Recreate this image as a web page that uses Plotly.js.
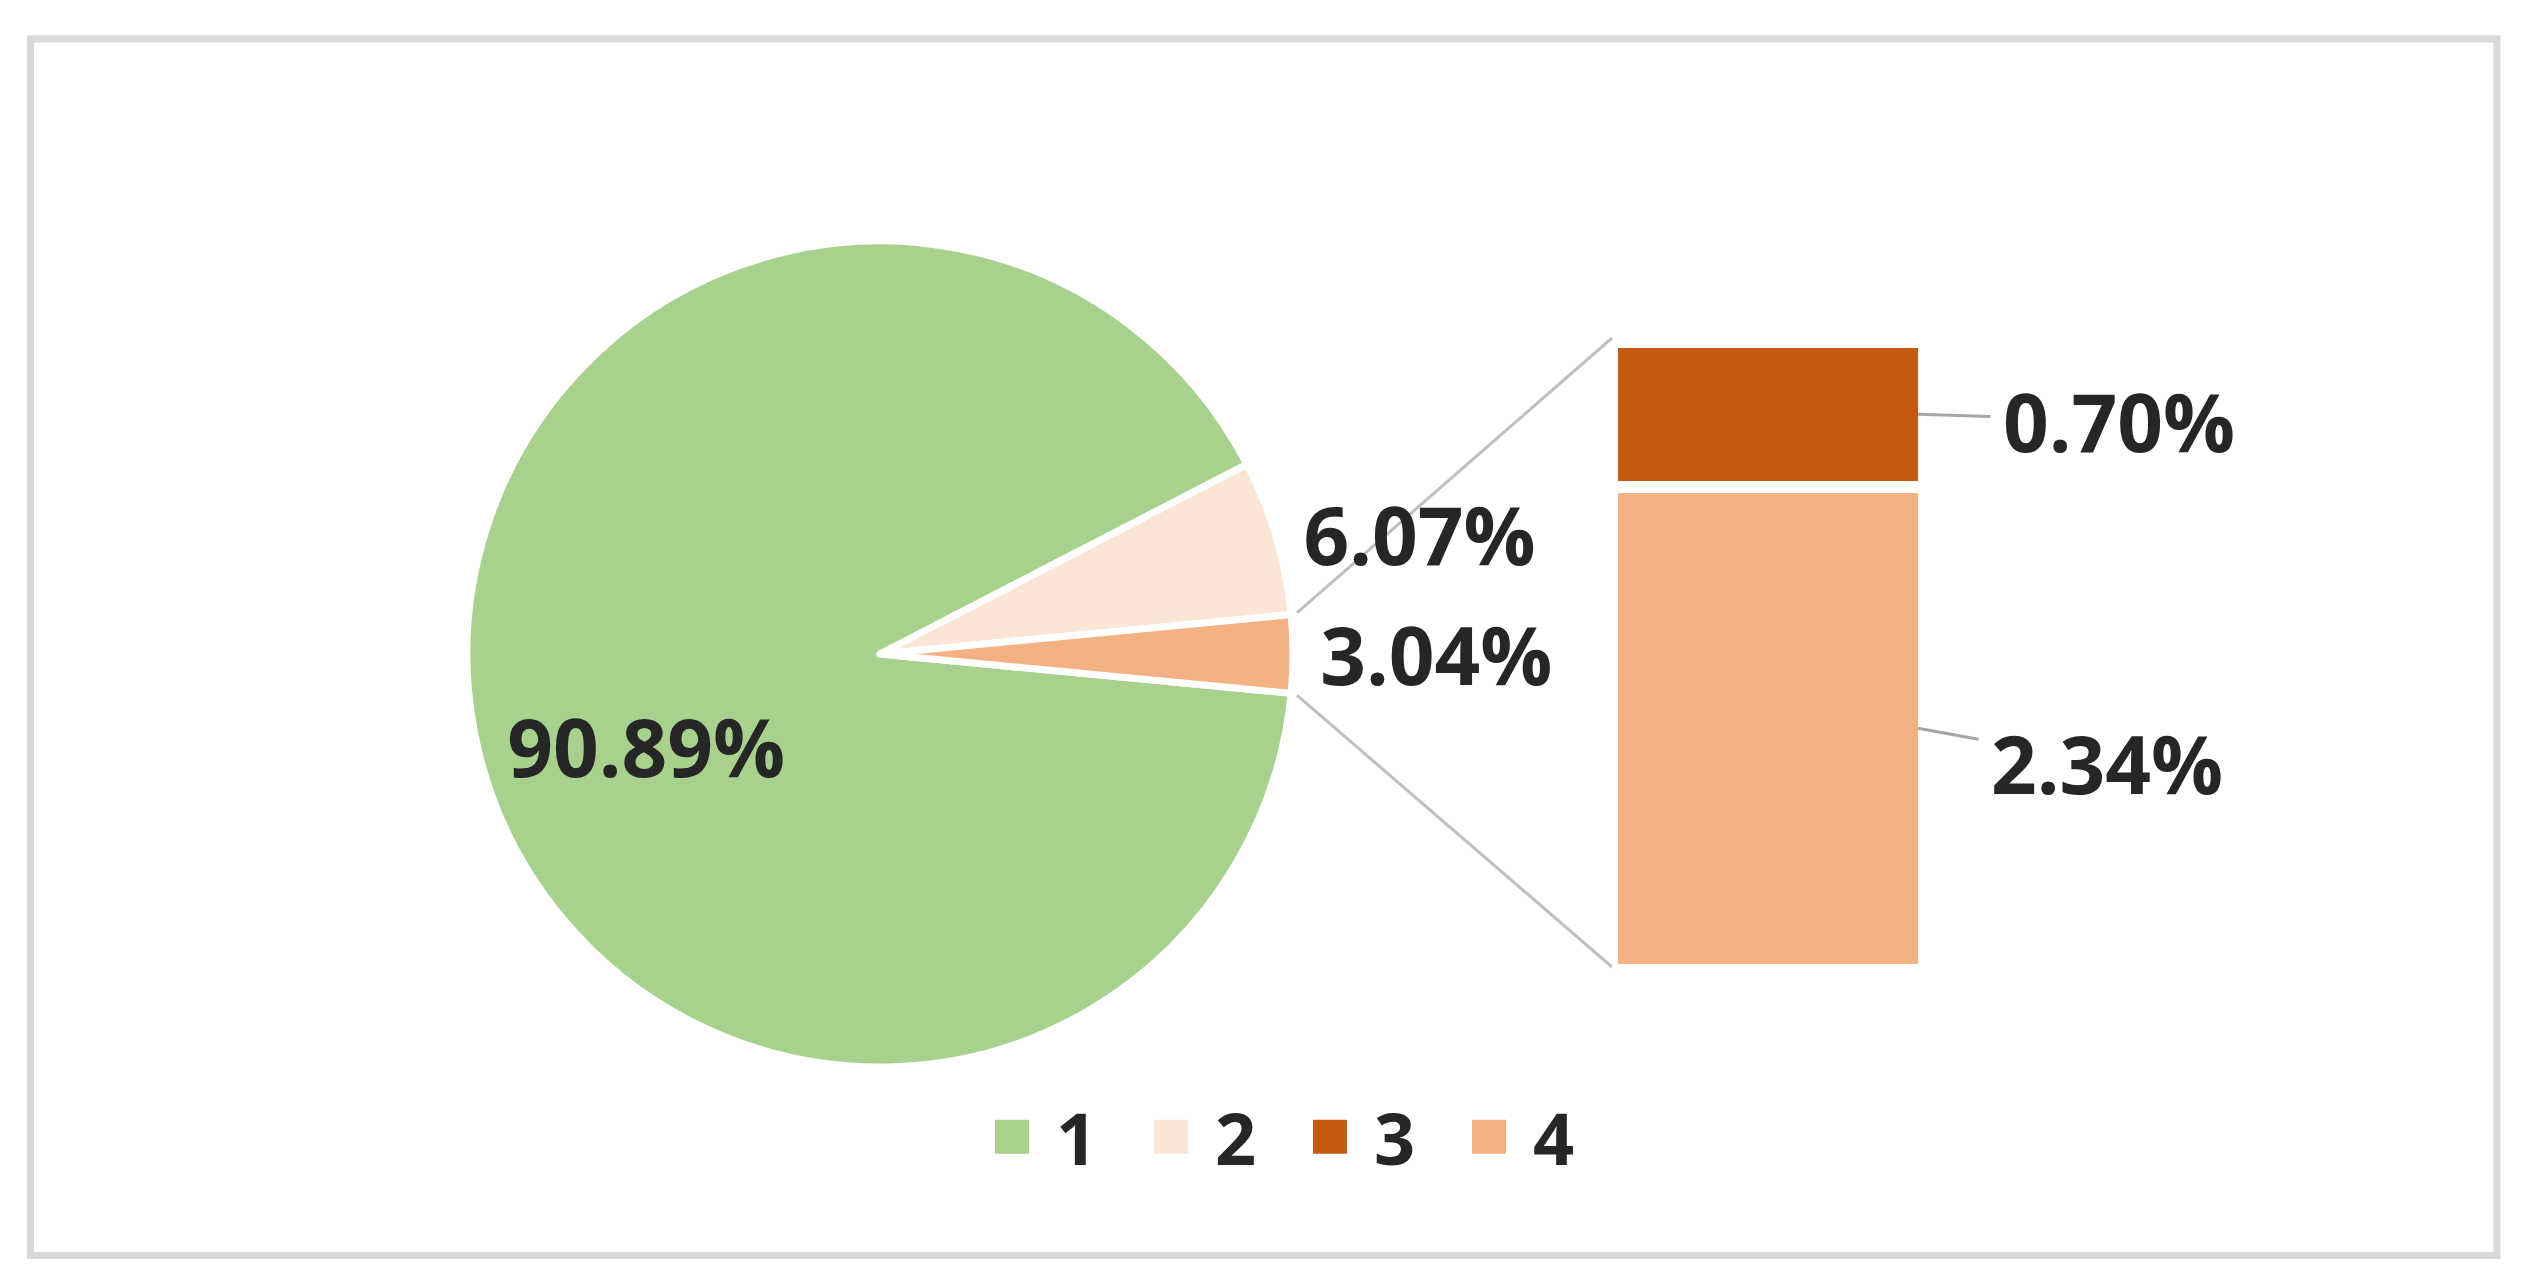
<!DOCTYPE html>
<html>
<head>
<meta charset="utf-8">
<script src="https://cdn.plot.ly/plotly-3.0.1.min.js"></script>
<style>
  html, body { margin: 0; padding: 0; background: #ffffff; }
  #chart { width: 2526px; height: 1286px; }
</style>
</head>
<body>
<div id="chart"></div>
<script>
// ---------------- DATA ----------------
const pieLabels = ['1', '2', 'Other'];
const pieValues = [90.89, 6.07, 3.04];
const barLabels = ['3', '4'];
const barValues = [0.70, 2.34];
const legendLabels = ['1', '2', '3', '4'];

// ---------------- STYLE ----------------
const colors = { '1': '#A9D18E', '2': '#FBE5D6', 'Other': '#F4B183', '3': '#C55A11', '4': '#F4B183' };
const W = 2526, H = 1286;
const px = v => v / W;
const py = v => 1 - v / H;
const txt = '#262626';
const FONT = 'Open Sans, Noto Sans, sans-serif';

// pie geometry (pixels)
const pieCx = 880, pieCy = 654, pieR = 413;
const pieRotation = 95.47;
// bar geometry (pixels)
const barOutline = 12;
const barLeft = 1612, barRight = 1924, barTop = 342, barBottom = 970;

const pieTotal = pieValues.reduce((a, b) => a + b, 0);
const barTotal = barValues.reduce((a, b) => a + b, 0);

const traces = [];
traces.push({
  type: 'pie',
  labels: pieLabels,
  values: pieValues,
  sort: false,
  direction: 'clockwise',
  rotation: pieRotation,
  marker: { colors: pieLabels.map(l => colors[l]), line: { color: '#ffffff', width: 7 } },
  texttemplate: [' <br>%{value:.2f}%&nbsp;&nbsp;&nbsp;', '%{value:.2f}%', '%{value:.2f}%'],
  textposition: ['inside', 'outside', 'outside'],
  insidetextorientation: 'horizontal',
  textfont: { family: FONT, size: 80, color: txt, weight: 'bold' },
  insidetextfont: { family: FONT, size: 80, color: txt, weight: 'bold' },
  outsidetextfont: { family: FONT, size: 80, color: txt, weight: 'bold' },
  domain: { x: [px(pieCx - pieR), px(pieCx + pieR)], y: [py(pieCy + pieR), py(pieCy - pieR)] },
  showlegend: false,
  hoverinfo: 'skip'
});

// legend-only entries for pie categories 1 and 2
['1', '2'].forEach((lab, i) => {
  traces.push({
    type: 'bar', name: lab, x: [null], y: [null],
    marker: { color: colors[lab] },
    legendrank: i + 1, showlegend: true, hoverinfo: 'skip'
  });
});

// stacked bar: 4 at the bottom, 3 on top
[1, 0].forEach(i => {
  const lab = barLabels[i];
  traces.push({
    type: 'bar', name: lab, x: [0], y: [barValues[i]], width: [1],
    marker: { color: colors[lab], line: { color: '#ffffff', width: barOutline } },
    legendrank: 3 + i, showlegend: true, hoverinfo: 'skip', textposition: 'none'
  });
});

// connector lines from pie "other" slice to bar stack
const deg = Math.PI / 180;
const aStart = (pieRotation + 360 * (pieValues[0] + pieValues[1]) / pieTotal) * deg;
const aEnd = (pieRotation + 360) * deg;
const p1 = [pieCx + pieR * Math.sin(aStart), pieCy - pieR * Math.cos(aStart)];
const p2 = [pieCx + pieR * Math.sin(aEnd), pieCy - pieR * Math.cos(aEnd)];
const lineStyle = { color: '#bfbfbf', width: 3 };

const shapes = [
  { type: 'rect', xref: 'paper', yref: 'paper', x0: px(30.5), x1: px(2497), y0: py(1255.5), y1: py(39),
    line: { color: '#d9d9d9', width: 7 }, fillcolor: 'rgba(0,0,0,0)', layer: 'below' },
  { type: 'line', xref: 'paper', yref: 'paper', x0: px(p1[0] + 6), y0: py(p1[1] - 2), x1: px(barLeft), y1: py(barTop - 4), line: lineStyle, layer: 'below' },
  { type: 'line', xref: 'paper', yref: 'paper', x0: px(p2[0] + 6), y0: py(p2[1] + 2), x1: px(barLeft), y1: py(barBottom - 3), line: lineStyle, layer: 'below' }
];

// bar labels with leader lines
const edgeX = 0.5 - (barOutline / 2) / (barRight - barLeft);
const labFont = { family: FONT, size: 80, color: txt, weight: 'bold' };
const annotations = [
  { xref: 'x', yref: 'y', x: edgeX, y: barValues[1] + barValues[0] / 2, text: barValues[0].toFixed(2) + '%',
    showarrow: true, arrowhead: 0, arrowwidth: 3, arrowcolor: '#a6a6a6', ax: 201, ay: 6, borderpad: 12, font: labFont },
  { xref: 'x', yref: 'y', x: edgeX, y: barValues[1] / 2, text: barValues[1].toFixed(2) + '%',
    showarrow: true, arrowhead: 0, arrowwidth: 3, arrowcolor: '#a6a6a6', ax: 189, ay: 34, borderpad: 12, font: labFont }
];

const layout = {
  width: W, height: H,
  margin: { l: 0, r: 0, t: 0, b: 0 },
  paper_bgcolor: '#ffffff', plot_bgcolor: '#ffffff',
  barmode: 'stack',
  bargap: 0,
  xaxis: { domain: [px(barLeft), px(barRight)], range: [-0.5, 0.5], visible: false, fixedrange: true },
  yaxis: { domain: [py(barBottom), py(barTop)], range: [0, barTotal], visible: false, fixedrange: true },
  showlegend: true,
  legend: {
    orientation: 'h', x: px(1012), xanchor: 'left', y: py(1137), yanchor: 'middle',
    traceorder: 'normal', itemwidth: 34, entrywidth: 110, entrywidthmode: 'pixels',
    font: { family: FONT, size: 72, color: txt, weight: 'bold' },
    bgcolor: 'rgba(0,0,0,0)', borderwidth: 0
  },
  shapes: shapes,
  annotations: annotations,
  font: { family: FONT, color: txt }
};

Plotly.newPlot('chart', traces, layout, { displayModeBar: false, staticPlot: true }).then(gd => {
  gd.querySelectorAll('.legend [clip-path]').forEach(e => e.removeAttribute('clip-path'));
  gd.querySelectorAll('.legend .legendpoints path').forEach(p => {
    p.removeAttribute('transform');
    p.setAttribute('d', 'M17,17H-17V-17H17Z');
    p.style.strokeWidth = '0';
  });
});
</script>
</body>
</html>
